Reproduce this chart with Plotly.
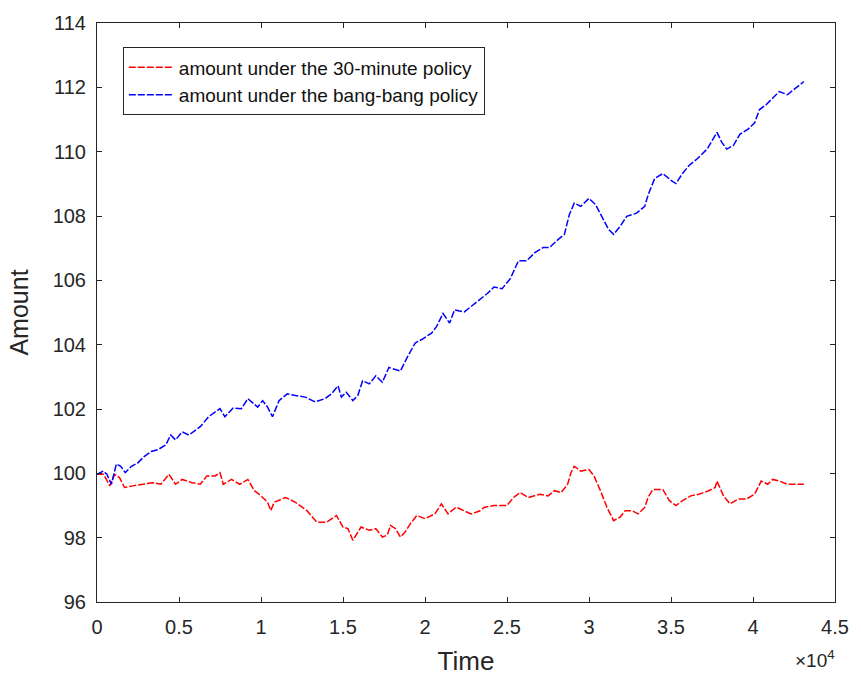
import plotly.graph_objects as go

# Time (s) and amounts
blue_t = [0, 380, 600, 880, 1180, 1450, 1720, 2100, 2480, 2890, 3300, 3690, 4190, 4490, 4790,
          5190, 5600, 6300, 6800, 7500, 7800, 8300, 8800, 9200, 9800, 10100, 10400, 10700,
          11100, 11600, 12100, 12700, 13300, 13900, 14300, 14700, 14900, 15200, 15600, 15900,
          16200, 16600, 17000, 17400, 17800, 18100, 18500, 18900, 19400, 19800, 20400, 20700,
          21100, 21500, 21800, 22400, 22900, 23400, 23800, 24200, 24700, 25200, 25700, 26200,
          26700, 27200, 27600, 28000, 28500, 28800, 29100, 29500, 30000, 30400, 30800, 31200,
          31500, 31900, 32300, 32900, 33400, 33600, 34000, 34500, 35000, 35300, 35700, 36100,
          36600, 37200, 37800, 38100, 38400, 38800, 39200, 39700, 40100, 40400, 40800, 41200,
          41600, 42100, 42600, 43100]
blue_v = [99.97, 100.07, 99.97, 99.66, 100.29, 100.22, 100.02, 100.22, 100.32, 100.53, 100.68,
          100.73, 100.88, 101.19, 101.04, 101.29, 101.19, 101.45, 101.76, 102.01, 101.76, 102.03,
          102.01, 102.32, 102.06, 102.26, 102.06, 101.76, 102.26, 102.47, 102.42, 102.37, 102.22,
          102.32, 102.47, 102.72, 102.37, 102.52, 102.26, 102.42, 102.88, 102.78, 103.03, 102.83,
          103.29, 103.24, 103.18, 103.59, 104.05, 104.16, 104.36, 104.56, 104.97, 104.67, 105.08,
          105.02, 105.23, 105.43, 105.59, 105.79, 105.74, 106.05, 106.61, 106.61, 106.86, 107.02,
          107.02, 107.22, 107.43, 108.04, 108.40, 108.30, 108.55, 108.35, 107.94, 107.58, 107.43,
          107.68, 107.99, 108.09, 108.30, 108.65, 109.16, 109.32, 109.11, 109.01, 109.32, 109.57,
          109.78, 110.08, 110.60, 110.29, 110.08, 110.19, 110.54, 110.70, 110.90, 111.31, 111.46,
          111.67, 111.87, 111.77, 111.98, 112.18]

red_t = [0, 400, 780, 1080, 1380, 1680, 2180, 2790, 3390, 3890, 4390, 4790, 5190, 5790, 6300,
         6700, 7200, 7500, 7700, 8200, 8700, 9200, 9600, 10000, 10400, 10600, 10800, 11500,
         12100, 12800, 13400, 14000, 14600, 15000, 15300, 15600, 16100, 16600, 17000, 17400,
         17700, 17900, 18200, 18500, 18800, 19100, 19500, 20000, 20600, 21000, 21400, 21900,
         22400, 22800, 23300, 23600, 24200, 25000, 25400, 25800, 26300, 27000, 27500, 27900,
         28300, 28700, 28900, 29100, 29500, 30000, 30300, 30700, 31100, 31500, 31900, 32200,
         32600, 33000, 33400, 33600, 33900, 34500, 34900, 35300, 35700, 36200, 36700, 37300,
         37700, 37800, 38200, 38600, 39100, 39600, 40100, 40500, 40900, 41200, 41600, 42100,
         42600, 43100]
red_v = [99.97, 99.97, 99.61, 99.97, 99.86, 99.56, 99.61, 99.66, 99.71, 99.66, 99.97, 99.66,
         99.81, 99.71, 99.66, 99.92, 99.92, 100.02, 99.66, 99.81, 99.66, 99.81, 99.46, 99.30,
         99.10, 98.84, 99.10, 99.25, 99.10, 98.84, 98.48, 98.48, 98.69, 98.33, 98.28, 97.92,
         98.33, 98.23, 98.28, 98.02, 98.08, 98.38, 98.28, 98.02, 98.18, 98.43, 98.69, 98.59,
         98.74, 99.05, 98.74, 98.95, 98.84, 98.74, 98.82, 98.94, 99.00, 99.00, 99.25, 99.40,
         99.25, 99.35, 99.30, 99.46, 99.40, 99.66, 100.02, 100.22, 100.07, 100.12, 99.92, 99.46,
         98.94, 98.53, 98.64, 98.84, 98.84, 98.74, 98.94, 99.25, 99.50, 99.50, 99.15, 99.00,
         99.15, 99.30, 99.35, 99.46, 99.56, 99.76, 99.30, 99.05, 99.20, 99.20, 99.35, 99.76,
         99.66, 99.81, 99.76, 99.66, 99.66, 99.66]

x_tick_vals = [0, 5000, 10000, 15000, 20000, 25000, 30000, 35000, 40000, 45000]
x_tick_text = ["0", "0.5", "1", "1.5", "2", "2.5", "3", "3.5", "4", "4.5"]
y_tick_vals = [96, 98, 100, 102, 104, 106, 108, 110, 112, 114]

axis_color = "#262626"
font_family = "Liberation Sans, Arial, sans-serif"

fig = go.Figure()
fig.add_trace(go.Scatter(x=red_t, y=red_v, mode="lines",
                         name="amount under the 30-minute policy",
                         line=dict(color="#ff0000", width=1.5, dash="7px,2px")))
fig.add_trace(go.Scatter(x=blue_t, y=blue_v, mode="lines",
                         name="amount under the bang-bang policy",
                         line=dict(color="#0000ff", width=1.5, dash="7px,2px")))

fig.update_layout(
    width=861, height=682,
    margin=dict(l=97, r=16, t=19, b=76),
    paper_bgcolor="white", plot_bgcolor="white",
    font=dict(family=font_family, color=axis_color),
    showlegend=True,
    legend=dict(x=0.035, y=0.958, xanchor="left", yanchor="top",
                bgcolor="white", bordercolor=axis_color, borderwidth=1,
                font=dict(size=19, color="#111111"),
                tracegroupgap=0, itemwidth=45),
    xaxis=dict(range=[0, 45000], tickvals=x_tick_vals, ticktext=x_tick_text,
               showgrid=False, zeroline=False, showline=True, linecolor=axis_color,
               linewidth=1, mirror="ticks", ticks="inside", ticklen=5, tickcolor=axis_color,
               tickfont=dict(size=20, color=axis_color), ticklabelstandoff=7,
               title=dict(text="Time", font=dict(size=26, color=axis_color), standoff=14)),
    yaxis=dict(range=[96, 114], tickvals=y_tick_vals,
               showgrid=False, zeroline=False, showline=True, linecolor=axis_color,
               linewidth=1, mirror="ticks", ticks="inside", ticklen=5, tickcolor=axis_color,
               tickfont=dict(size=20, color=axis_color), ticklabelstandoff=6,
               title=dict(text="Amount", font=dict(size=25, color=axis_color), standoff=16)),
)

fig.add_annotation(text="×10<sup>4</sup>", xref="paper", yref="paper",
                   x=1.003, y=-0.123, xanchor="right", yanchor="bottom", showarrow=False,
                   font=dict(size=19, color=axis_color, family=font_family))

fig.write_html("out.html", config={"displayModeBar": False},
               post_script="document.body.style.margin='0px';document.body.style.padding='0px';")
